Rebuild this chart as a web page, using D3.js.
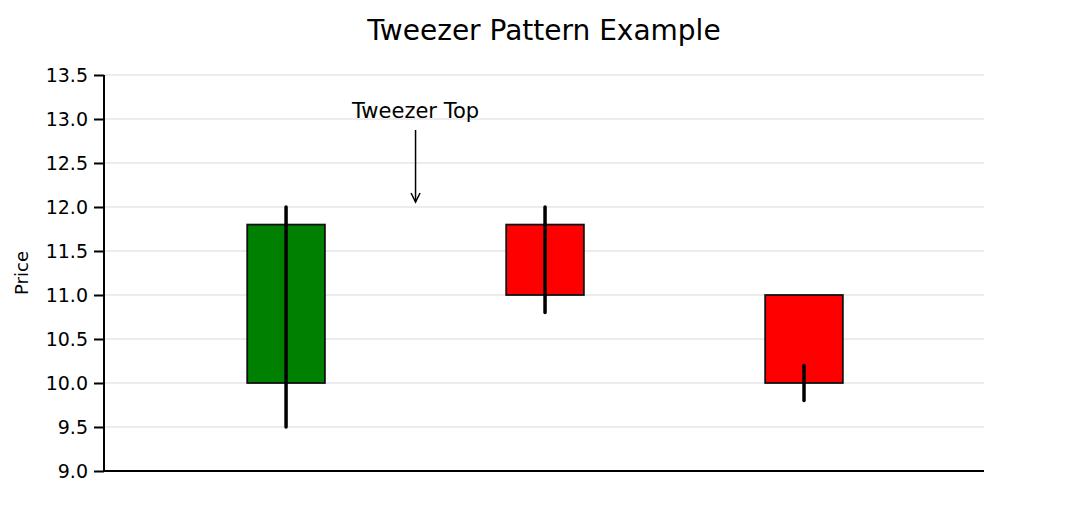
<!DOCTYPE html>
<html>
<head>
<meta charset="utf-8">
<script src="https://cdn.jsdelivr.net/npm/d3@7"></script>
<style>
body { margin: 0; background: #fff; }
svg { font-family: "DejaVu Sans", sans-serif; }
</style>
</head>
<body>
<script>
// candle data
var days = [0, 1, 2];
var opens = [10.0, 11.8, 11.0];
var closes = [11.8, 11.0, 10.0];
var highs = [12.0, 12.0, 10.2];
var lows = [9.5, 10.8, 9.8];
var yTicks = [9.0, 9.5, 10.0, 10.5, 11.0, 11.5, 12.0, 12.5, 13.0, 13.5];
var annText = 'Tweezer Top';
var annPoint = [0.5, 12.0];
var annTextPos = [0.5, 13.0];

var width = 1074, height = 508;
var margin = {top: 75, right: 90, bottom: 37, left: 104};

var svg = d3.select('body').append('svg')
	.attr('width', width)
	.attr('height', height);

var x = d3.scaleLinear().domain([-0.703, 2.695]).range([margin.left, width - margin.right]);
var y = d3.scaleLinear().domain([9.0, 13.5]).range([height - margin.bottom, margin.top]);

// grid
svg.append('g').selectAll('line')
	.data(yTicks)
	.enter().append('line')
	.attr('x1', x.range()[0]).attr('x2', x.range()[1])
	.attr('y1', function(d){ return y(d); })
	.attr('y2', function(d){ return y(d); })
	.attr('stroke', '#e6e6ea')
	.attr('stroke-width', 1.5);

// bodies
var bw = 0.3;
svg.append('g').selectAll('rect')
	.data(days)
	.enter().append('rect')
	.attr('x', function(d){ return x(d - bw / 2); })
	.attr('width', function(d){ return x(d + bw / 2) - x(d - bw / 2); })
	.attr('y', function(d, i){ return y(Math.max(opens[i], closes[i])); })
	.attr('height', function(d, i){ return Math.abs(y(opens[i]) - y(closes[i])); })
	.attr('fill', function(d, i){ return closes[i] >= opens[i] ? '#008000' : '#ff0000'; })
	.attr('stroke', '#111')
	.attr('stroke-width', 1.8);

// wicks
svg.append('g').selectAll('line')
	.data(days)
	.enter().append('line')
	.attr('x1', function(d){ return x(d); })
	.attr('x2', function(d){ return x(d); })
	.attr('y1', function(d, i){ return y(highs[i]); })
	.attr('y2', function(d, i){ return y(lows[i]); })
	.attr('stroke', '#000')
	.attr('stroke-width', 3.5)
	.attr('stroke-linecap', 'round');

// axes
var yAxis = d3.axisLeft(y).tickValues(yTicks).tickFormat(d3.format('.1f')).tickSize(10).tickPadding(6);
var gy = svg.append('g')
	.attr('transform', 'translate(' + margin.left + ',0)')
	.call(yAxis);
gy.select('.domain').attr('stroke', '#000').attr('stroke-width', 2).attr('d', 'M0,' + y(9.0) + 'V' + y(13.5));
gy.selectAll('.tick line').attr('stroke', '#000').attr('stroke-width', 2);
gy.selectAll('.tick text').attr('font-size', 19).attr('fill', '#000').attr('font-family', 'DejaVu Sans');

svg.append('line')
	.attr('x1', x.range()[0]).attr('x2', x.range()[1])
	.attr('y1', y(9.0)).attr('y2', y(9.0))
	.attr('stroke', '#000').attr('stroke-width', 2);

// labels
svg.append('text')
	.attr('x', (x.range()[0] + x.range()[1]) / 2)
	.attr('y', 40)
	.attr('text-anchor', 'middle')
	.attr('font-size', 28)
	.text('Tweezer Pattern Example');

svg.append('text')
	.attr('transform', 'translate(28,' + ((y(9) + y(13.5)) / 2) + ') rotate(-90)')
	.attr('text-anchor', 'middle')
	.attr('font-size', 18)
	.text('Price');

// annotation
svg.append('text')
	.attr('x', x(annTextPos[0]))
	.attr('y', y(annTextPos[1]) - 1)
	.attr('text-anchor', 'middle')
	.attr('font-size', 21)
	.text(annText);

var ax = x(annPoint[0]);
var ayTop = y(annTextPos[1]) + 11;
var ayEnd = y(annPoint[1]) - 5;
svg.append('line')
	.attr('x1', ax).attr('x2', ax)
	.attr('y1', ayTop).attr('y2', ayEnd)
	.attr('stroke', '#000').attr('stroke-width', 1.5);
svg.append('path')
	.attr('d', 'M' + (ax - 4.5) + ',' + (ayEnd - 9) + 'L' + ax + ',' + ayEnd + 'L' + (ax + 4.5) + ',' + (ayEnd - 9))
	.attr('fill', 'none')
	.attr('stroke', '#000')
	.attr('stroke-width', 1.5);
</script>
</body>
</html>
